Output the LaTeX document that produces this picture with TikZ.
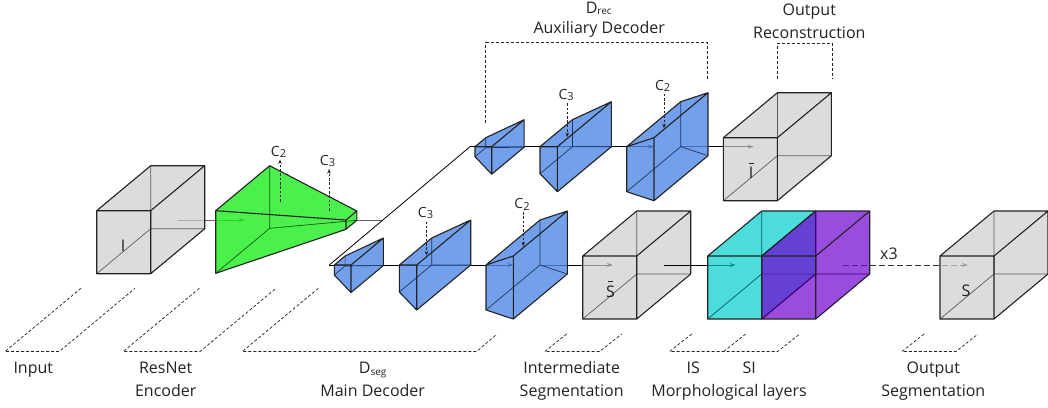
\documentclass[tikz,border=0pt]{standalone}
\usepackage{fontspec}
\setmainfont{Open Sans}
\usetikzlibrary{arrows.meta}

\definecolor{cubegray}{HTML}{CDCDCD}
\definecolor{encgreen}{HTML}{1FEC1F}
\definecolor{decblue}{HTML}{5088E6}
\definecolor{morphcyan}{HTML}{00CDCD}
\definecolor{morphpurple}{HTML}{6F00D0}
\definecolor{ink}{HTML}{222222}

\tikzset{
  edge/.style={draw=ink, line width=1.1pt, line join=round},
  hidden/.style={line width=.7pt},
  conn/.style={line width=.9pt, draw=black},
  encconn/.style={line width=1pt, draw=black!60},
  tip/.style={-{Stealth[length=6pt,width=4pt]}},
  skip/.style={line width=.8pt, draw=ink, dash pattern=on 2.5pt off 1.8pt, -{Stealth[length=4.5pt,width=3.5pt]}},
  span/.style={line width=.7pt, draw=ink, dash pattern=on 3pt off 2pt},
  lbl/.style={font=\fontsize{16}{19}\selectfont, text=ink, anchor=base, inner sep=0pt},
  clbl/.style={font=\fontsize{14}{16}\selectfont, text=ink, anchor=base, inner sep=0pt},
}

\newcommand{\lowsub}[2][10]{\raisebox{-1.5pt}{\fontsize{#1}{#1}\selectfont #2}}
% letter with a short bar above it
\newcommand{\barred}[1]{\leavevmode\vbox{\offinterlineskip\halign{\hfil##\hfil\cr
  \rule{5pt}{1pt}\cr\noalign{\kern3.5pt}#1\cr}}}

% cube, front top-left corner at (#1,#2)
\newcommand{\drawcube}[3]{%
  \fill[#3, fill opacity=.7] (#1,#2) -- ++(54,-45) -- ++(54,0) -- ++(0,63) -- ++(-54,45) -- ++(-54,0) -- cycle;
  \draw[hidden, #3!45!black] (#1+54,#2+18) -- ++(0,-63) (#1+54,#2+18) -- ++(54,0) (#1+54,#2+18) -- ++(-54,45);
  \draw[edge] (#1,#2) rectangle ++(54,63) (#1,#2) -- ++(54,-45) -- ++(54,0) -- ++(-54,45)
    ++(54,-45) -- ++(0,63) -- ++(-54,45);
}

% frustum: left face at x=#2 (top #3, height #4, depth #5), right face at x=#6 (top #7, height #8, depth #9)
\newcommand{\drawfrustum}[9]{%
  \fill[#1, fill opacity=.8] (#2,#3) -- (#2+1.2*#5,#3-#5) -- (#6+1.2*#9,#7-#9) -- (#6+1.2*#9,#7+#8-#9) -- (#6,#7+#8) -- (#2,#3+#4) -- cycle;
  \draw[hidden, #1!40!black] (#2+1.2*#5,#3-#5) -- (#2+1.2*#5,#3+#4-#5) -- (#2,#3+#4)
    (#2+1.2*#5,#3+#4-#5) -- (#6+1.2*#9,#7+#8-#9);
  \draw[edge] (#2,#3) -- (#2,#3+#4) -- (#6,#7+#8) -- (#6,#7) -- cycle
    (#2,#3) -- (#2+1.2*#5,#3-#5) -- (#6+1.2*#9,#7-#9) -- (#6,#7)
    (#6+1.2*#9,#7-#9) -- (#6+1.2*#9,#7+#8-#9) -- (#6,#7+#8);
}

% one decoder: three blocks, skip inputs and the map it gives
\newcommand{\decoderrow}[2]{%
  \coordinate (#1-in) at (329.3,265);
  \coordinate (#1-b3) at (513.3,265);
  \coordinate (#1-b3out) at (540,265);
  \coordinate (#1-cube) at (613,265);
  \draw[conn, tip] (#1-in) -- (#1-b3);
  \draw[conn, tip] (#1-b3out) -- (#1-cube);
  \drawfrustum{decblue}{334.3}{265}{10}{9}{351}{265}{27.5}{27}
  \drawfrustum{decblue}{399.3}{265}{27}{27}{416.7}{265}{45}{45}
  \drawfrustum{decblue}{486}{265}{45}{45}{513.3}{256}{63}{45}
  \drawcube{582.7}{256}{cubegray}
  \node[lbl] (#1-map) at (610.5,297) {#2};
  \node[clbl] (#1-c3) at (425.5,217.3) {C\lowsub[11]{3}};
  \node[clbl] (#1-c2) at (522,208.5) {C\lowsub[11]{2}};
  \coordinate (#1-c3foot) at (426.5,221.5);
  \coordinate (#1-c3tip) at (426.5,255.5);
  \coordinate (#1-c2foot) at (523.3,212);
  \coordinate (#1-c2tip) at (523.3,246.5);
  \draw[skip] (#1-c3foot) -- (#1-c3tip);
  \draw[skip] (#1-c2foot) -- (#1-c2tip);
}

\begin{document}
\begin{tikzpicture}[x=1pt,y=-1pt]
  \useasboundingbox (0,0) rectangle (1048,407);

  % connections
  \coordinate (inp-out) at (177.7,220);
  \coordinate (enc-in) at (245,220);
  \coordinate (enc-out) at (356.8,220);
  \coordinate (split) at (382.8,220);
  \draw[encconn, tip] (inp-out) -- (enc-in);
  \draw[encconn] (enc-out) -- (split);

  % main decoder and auxiliary decoder
  \decoderrow{seg}{\barred{S}}
  \begin{scope}[shift={(140.7,-118.3)}]
    \decoderrow{rec}{\barred{I}}
  \end{scope}
  \draw[conn, line width=.8pt] (seg-in) -- (rec-in);

  \coordinate (seg-out) at (664,265);
  \coordinate (morph-in) at (735.7,265);
  \coordinate (morph-out) at (843,265);
  \coordinate (outp-in) at (968,265);
  \draw[conn, tip] (seg-out) -- (morph-in);
  \draw[conn, draw=black!80, dash pattern=on 6pt off 3pt, tip] (morph-out) -- (outp-in);

  % blocks
  \drawcube{96.7}{210.7}{cubegray}
  \drawfrustum{encgreen}{215.7}{210.7}{62.6}{45}{346}{220}{9.3}{9}
  \drawcube{707.7}{256}{morphcyan}
  \drawcube{761.7}{256}{morphpurple}
  \drawcube{940}{256}{cubegray}

  \node[lbl] (inp-map) at (123,251) {I};
  \node[lbl] (outp-map) at (966,296) {S};
  \node[lbl] (rep) at (889,259) {x3};

  % encoder skips
  \node[clbl] (enc-c2) at (278.5,156) {C\lowsub[11]{2}};
  \node[clbl] (enc-c3) at (327.5,165.3) {C\lowsub[11]{3}};
  \coordinate (enc-c2foot) at (280,201.7);
  \coordinate (enc-c2tip) at (280,159.5);
  \coordinate (enc-c3foot) at (329,210.7);
  \coordinate (enc-c3tip) at (329,169);
  \draw[skip] (enc-c2foot) -- (enc-c2tip);
  \draw[skip] (enc-c3foot) -- (enc-c3tip);

  % top spans
  \draw[span] (485.7,122.7) -- (485.7,42.7) -- (707.3,42.7) -- (707.3,80);
  \draw[span] (777.7,79.3) -- (777.7,43.3) -- (832.3,43.3) -- (832.3,79.3);
  \node[lbl] (rec-name) at (598.7,13) {D\lowsub{rec}};
  \node[lbl] (rec-title) at (599.2,33.3) {Auxiliary Decoder};
  \node[lbl] (rec-out1) at (809.3,15.5) {Output};
  \node[lbl] (rec-out2) at (809.3,38.5) {Reconstruction};

  % bottom spans
  \draw[span] (81,288.3) -- (5,351.5) -- (59.3,351.5) -- (135,288.3);
  \draw[span] (199.3,288.3) -- (123.3,351.5) -- (200,351.5) -- (276,288.3);
  \draw[span] (318.3,288.3) -- (242.3,351.5) -- (476.7,351.5) -- (497,334);
  \draw[span] (566.7,334) -- (544.7,351.5) -- (599.7,351.5) -- (621.7,334);
  \draw[span] (691.7,334) -- (669.7,351.5) -- (777.7,351.5) -- (799.7,334)
    (723.7,351.5) -- (745.7,334);
  \draw[span] (924,334) -- (902,351.5) -- (956,351.5) -- (978,334);

  \node[lbl] (lab-inp) at (33.3,373.5) {Input};
  \node[lbl] (lab-enc1) at (165.7,373.5) {ResNet};
  \node[lbl] (lab-enc2) at (165.7,396.5) {Encoder};
  \node[lbl] (lab-seg1) at (372.7,373.5) {D\lowsub{seg}};
  \node[lbl] (lab-seg2) at (372.7,396.5) {Main Decoder};
  \node[lbl] (lab-int1) at (571.7,373.5) {Intermediate};
  \node[lbl] (lab-int2) at (571.7,396.5) {Segmentation};
  \node[lbl] (lab-is) at (693.3,373.5) {IS};
  \node[lbl] (lab-si) at (749.2,373.5) {SI};
  \node[lbl] (lab-morph) at (729,396.5) {Morphological layers};
  \node[lbl] (lab-out1) at (933.3,373.5) {Output};
  \node[lbl] (lab-out2) at (933.3,396.5) {Segmentation};
\end{tikzpicture}
\end{document}
